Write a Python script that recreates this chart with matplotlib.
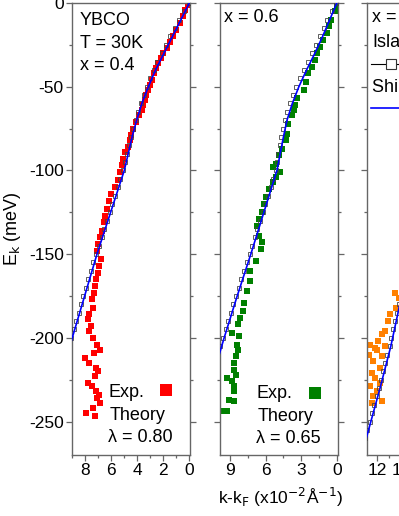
import numpy as np
import matplotlib
matplotlib.use("Agg")
import matplotlib.pyplot as plt
from matplotlib.lines import Line2D
from matplotlib.ticker import MultipleLocator

plt.rcParams['font.family'] = ['Liberation Sans', 'DejaVu Sans']

# ---- data (k - kF in 1e-2 1/A, energy in meV) ----
# panel 1: x = 0.4, lambda = 0.80
line1_E = [0, -10, -20, -30, -40, -50, -60, -70, -80, -100, -125, -150, -175, -200, -210]
line1_k = [0, 0.65, 1.3, 1.95, 2.6, 3.15, 3.65, 4.05, 4.4, 5.0, 6.05, 7.1, 8.05, 9.0, 9.4]
sq1_E = list(range(0, -205, -5))
sq1_k = [0.05, 0.42, 0.78, 1.12, 1.47, 1.8, 2.13, 2.45, 2.75, 3.02, 3.28, 3.52, 3.75, 3.95,
         4.13, 4.3, 4.47, 4.62, 4.78, 4.95, 5.12, 5.32, 5.52, 5.72, 5.93, 6.13, 6.34, 6.55,
         6.75, 6.96, 7.17, 7.37, 7.57, 7.76, 7.95, 8.14, 8.33, 8.52, 8.71, 8.9, 9.08]
exp1_k = [0.1, 0.3, 0.5, 0.75, 1.0, 1.25, 1.5, 1.75, 2.0, 2.2, 2.4, 2.55, 2.7, 2.85, 3.0,
          3.15, 3.3, 3.4, 3.55, 3.65, 3.85, 4.1, 4.3, 4.45, 4.55, 4.75, 4.95, 5.1, 5.2, 5.3,
          5.5, 5.75, 6.0, 6.15, 6.3, 6.45, 6.55, 6.7, 6.85, 7.0, 7.1, 6.8, 6.95, 7.05, 7.2,
          7.25, 7.35, 7.5, 7.4, 7.7, 7.8, 7.55, 7.7, 7.4, 7.1, 6.9, 7.3, 8.0, 7.7, 7.2, 7.0,
          7.25, 7.8, 7.5, 7.2, 6.95, 7.1, 6.85, 7.4, 7.95, 7.25]
exp1_E = [-1, -4, -8, -12, -16, -20, -23, -27, -30, -33, -36, -39, -42, -46, -49,
          -52, -55, -58, -61, -64, -67, -71, -75, -79, -82, -86, -89, -93, -97, -101,
          -106, -110, -114, -118, -123, -127, -131, -136, -140, -144, -148, -153, -157, -161, -165,
          -169, -173, -177, -182, -186, -189, -193, -196, -200, -204, -207, -209, -212, -215, -218, -220,
          -223, -227, -229, -232, -234, -236, -239, -242, -245, -247]

# panel 2: x = 0.6, lambda = 0.65
line2_E = [0, -10, -20, -30, -40, -50, -60, -70, -80, -100, -125, -150, -175, -200, -212]
line2_k = [0, 0.6, 1.2, 1.85, 2.55, 3.2, 3.75, 4.2, 4.5, 5.05, 6.15, 7.25, 8.4, 9.5, 10.0]
sq2_E = list(range(0, -210, -5))
sq2_k = [0.05, 0.4, 0.8, 1.1, 1.42, 1.74, 2.07, 2.42, 2.77, 3.1, 3.42, 3.7, 3.96, 4.18,
         4.38, 4.53, 4.68, 4.82, 4.95, 5.06, 5.17, 5.37, 5.59, 5.81, 6.03, 6.25, 6.47, 6.69,
         6.91, 7.13, 7.35, 7.58, 7.81, 8.04, 8.27, 8.5, 8.72, 8.94, 9.16, 9.38, 9.6, 9.82]
exp2_k = [0.0, 0.15, 0.45, 0.7, 0.85, 1.15, 1.4, 1.7, 1.85, 2.1, 2.4, 2.6, 2.8, 3.35, 3.5,
          3.65, 3.75, 4.1, 4.2, 4.3, 4.6, 4.9, 5.15, 5.4, 4.75, 5.15, 5.4, 5.7, 6.0, 6.15,
          6.35, 6.6, 6.7, 6.55, 6.3, 6.4, 6.8, 7.3, 7.3, 7.6, 7.8, 7.95, 8.2, 8.35, 8.8,
          8.25, 8.4, 8.35, 8.5, 8.65, 8.65, 8.5, 9.3, 8.8, 8.65, 8.65, 9.1, 8.65, 9.3, 9.5]
exp2_E = [-1, -5, -10, -14, -18, -22, -26, -30, -34, -38, -42, -47, -52, -57, -61,
          -64, -67, -72, -78, -82, -87, -91, -96, -98, -101, -104, -107, -111, -116, -120,
          -125, -129, -133, -139, -143, -147, -154, -160, -166, -172, -179, -184, -188, -192, -197,
          -199, -204, -207, -211, -215, -219, -222, -224, -226, -229, -232, -237, -238, -244, -244]

# panel 3 (cut off at the right edge)
line3_E = [-150, -180, -205, -230, -260]
line3_k = [9.05, 10.1, 10.85, 11.75, 12.9]
sq3_E = list(range(-165, -265, -5))
sq3_k = [9.68, 9.85, 10.03, 10.2, 10.35, 10.5, 10.65, 10.8, 10.95, 11.13, 11.31, 11.49,
         11.67, 11.85, 12.04, 12.23, 12.42, 12.62, 12.81, 13.0]
exp3_k = [10.5, 10.2, 10.4, 10.9, 11.1, 11.3, 11.6, 11.9, 12.6, 12.2, 12.0, 11.3, 11.6, 12.7,
          12.3, 11.75, 12.45, 12.2, 11.75, 12.6, 12.0, 12.3, 11.6, 12.45]
exp3_E = [-173, -176, -182, -186, -190, -196, -198, -202, -204, -206, -207, -205, -211, -210,
          -214, -218, -221, -224, -227, -229, -232, -235, -238, -239]

W, H = 399, 516
fig = plt.figure(figsize=(W / 100, H / 100), dpi=100)

spine_col = '#666666'
FS = 12.5


def make_ax(left, width, xlim, major, minor, labels_y):
    ax = fig.add_axes([left / W, (H - 455) / H, width / W, 452.5 / H])
    ax.set_xlim(*xlim)
    ax.set_ylim(-270, 0.3)
    ax.xaxis.set_major_locator(MultipleLocator(major))
    ax.xaxis.set_minor_locator(MultipleLocator(minor))
    ax.yaxis.set_major_locator(MultipleLocator(50))
    ax.yaxis.set_minor_locator(MultipleLocator(25))
    for s in ax.spines.values():
        s.set_color(spine_col)
        s.set_linewidth(1.0)
    ax.tick_params(which='both', direction='out', color=spine_col, width=0.9,
                   labelsize=FS, right=True, top=False, pad=2)
    ax.tick_params(which='major', length=4)
    ax.tick_params(which='minor', length=2.5)
    if not labels_y:
        ax.tick_params(labelleft=False)
    ax.xaxis.set_major_formatter(lambda v, p: f"{v:.0f}")
    ax.yaxis.set_major_formatter(lambda v, p: f"{v:.0f}")
    return ax


def draw(ax, lk, lE, sk, sE, ek, eE, col):
    ax.plot(ek, eE, 's', color=col, markersize=5.0, markeredgewidth=0, zorder=2)
    ax.plot(sk, sE, 's', mfc='none', mec='#444444', markersize=3.4, markeredgewidth=0.6, zorder=3)
    ax.plot(lk, lE, '-', color='#0000ff', lw=1.2, zorder=4)


ax1 = make_ax(72, 118, (9.02, -0.05), 2, 1, True)
draw(ax1, line1_k, line1_E, sq1_k, sq1_E, exp1_k, exp1_E, '#ff0000')
ax1.set_ylabel(r'E$_{\mathrm{k}}$ (meV)', fontsize=FS + 0.5, labelpad=4)

ax2 = make_ax(220, 118, (9.85, -0.1), 3, 1.5, False)
draw(ax2, line2_k, line2_E, sq2_k, sq2_E, exp2_k, exp2_E, '#008000')

ax3 = make_ax(367, 155, (12.84, -0.1), 2, 1, False)
draw(ax3, line3_k, line3_E, sq3_k, sq3_E, exp3_k, exp3_E, '#ff8000')


def ftext(px, py, s, **kw):
    fig.text(px / W, 1 - py / H, s, fontsize=FS + 0.5, va='baseline', ha='left', **kw)


def fmark(px, py, **kw):
    fig.add_artist(Line2D([px / W], [1 - py / H], transform=fig.transFigure, **kw))


# panel 1 annotations
ftext(80, 25, 'YBCO')
ftext(80, 48, 'T = 30K')
ftext(80, 70, 'x = 0.4')
ftext(108, 397, 'Exp.')
fmark(166, 390, marker='s', color='#ff0000', markersize=8, markeredgewidth=0)
ftext(110, 420, 'Theory')
ftext(108, 442, 'λ = 0.80')

# panel 2 annotations
ftext(224, 22, 'x = 0.6')
ftext(256, 398, 'Exp.')
fmark(315, 393, marker='s', color='#008000', markersize=8, markeredgewidth=0)
ftext(258, 421, 'Theory')
ftext(256, 443, 'λ = 0.65')

# panel 3 legend (clipped by figure edge)
ftext(372, 22, 'x = 0.8')
ftext(372, 47, 'Island')
fig.add_artist(Line2D([371 / W, 430 / W], [1 - 64 / H] * 2, transform=fig.transFigure,
                      color='black', lw=0.8))
fmark(391, 64, marker='s', mfc='white', mec='#333333', markersize=7, markeredgewidth=0.8)
ftext(372, 92, 'Shi et al.')
fig.add_artist(Line2D([371 / W, 430 / W], [1 - 108 / H] * 2, transform=fig.transFigure,
                      color='#0000ff', lw=1.2))

fig.text(280 / W, 1 - 504 / H, r'k-k$_\mathrm{F}$ (x10$^{-2}$Å$^{-1}$)',
         fontsize=FS, ha='center', va='baseline')

fig.savefig('out.png', dpi=100)
